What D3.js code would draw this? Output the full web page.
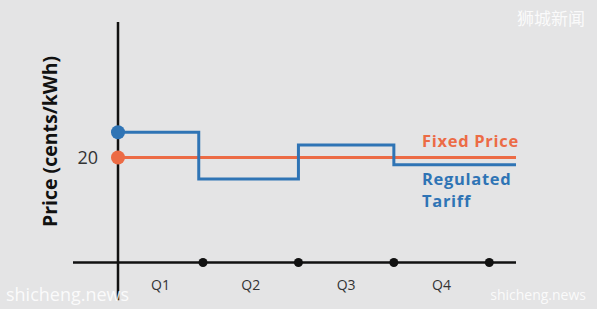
<!DOCTYPE html>
<html>
<head>
<meta charset="utf-8">
<script src="https://cdn.jsdelivr.net/npm/d3@7"></script>
<style>
  body { margin: 0; background: #e4e4e5; }
  svg { display: block; }
</style>
</head>
<body>
<div id="chart"></div>
<script>
// quarter labels and tick positions (quarter boundaries)
const quarters = ["Q1", "Q2", "Q3", "Q4"];
const quarterTicks = [1, 2, 3, 4];

// fixed price stays flat at 20 cents/kWh
const fixedX = [0, 4.28];
const fixedY = [20, 20];

// regulated tariff changes each quarter (step after)
const tariffX = [0, 0.95, 2, 3, 4.28];
const tariffY = [24.8, 15.9, 22.4, 18.6, 18.6];

const yTicks = [20];

const width = 597, height = 309;

const svg = d3.select("#chart").append("svg")
    .attr("width", width).attr("height", height);

svg.append("rect").attr("width", width).attr("height", height).attr("fill", "#e4e4e5");

// x scale: y axis sits at 0, quarter ends follow
const x = d3.scaleLinear().domain([0, 1, 4.28]).range([118, 203, 516]);
const y = d3.scaleLinear().domain([0, 45.8]).range([262.5, 22]);

const blue = "#2f74b5", orange = "#ec6b45";

// axes
svg.append("line")
    .attr("x1", 73).attr("x2", x(4.28))
    .attr("y1", y(0)).attr("y2", y(0))
    .attr("stroke", "#111").attr("stroke-width", 2.5);

svg.append("line")
    .attr("x1", x(0)).attr("x2", x(0))
    .attr("y1", y(45.8)).attr("y2", y(-7.2))
    .attr("stroke", "#111").attr("stroke-width", 2.5);

svg.selectAll("circle.tick")
    .data(quarterTicks)
    .join("circle")
    .attr("class", "tick")
    .attr("cx", d => x(d)).attr("cy", y(0))
    .attr("r", 4.5).attr("fill", "#111");

svg.selectAll("text.q")
    .data(quarters)
    .join("text")
    .attr("class", "q")
    .attr("x", (d, i) => (x(i) + x(i + 1)) / 2)
    .attr("y", y(0) + 23)
    .attr("dy", "0.35em")
    .attr("text-anchor", "middle")
    .attr("font-family", "Open Sans, sans-serif")
    .attr("font-size", 14)
    .attr("fill", "#333")
    .text(d => d);

svg.selectAll("text.ytick")
    .data(yTicks)
    .join("text")
    .attr("class", "ytick")
    .attr("x", 98).attr("y", d => y(d))
    .attr("dy", "0.35em")
    .attr("text-anchor", "end")
    .attr("font-family", "Open Sans, sans-serif")
    .attr("font-size", 18)
    .attr("fill", "#333")
    .text(d => d);

svg.append("text")
    .attr("transform", `translate(57,${(55 + 228) / 2}) rotate(-90)`)
    .attr("text-anchor", "middle")
    .attr("font-family", "Open Sans, sans-serif")
    .attr("font-weight", 700)
    .attr("font-size", 19.5)
    .attr("fill", "#111")
    .text("Price (cents/kWh)");

// lines
const line = d3.line().x(d => x(d[0])).y(d => y(d[1]));

svg.append("path")
    .datum(d3.zip(fixedX, fixedY))
    .attr("d", line)
    .attr("fill", "none").attr("stroke", orange).attr("stroke-width", 3);

svg.append("path")
    .datum(d3.zip(tariffX, tariffY))
    .attr("d", line.curve(d3.curveStepAfter))
    .attr("fill", "none").attr("stroke", blue).attr("stroke-width", 3);

svg.append("circle").attr("cx", x(0)).attr("cy", y(tariffY[0])).attr("r", 7).attr("fill", blue);
svg.append("circle").attr("cx", x(0)).attr("cy", y(fixedY[0])).attr("r", 7).attr("fill", orange);

// line labels
const labelFont = "Open Sans, sans-serif";
const addLabel = (txt, yPos, color) => svg.append("text")
    .attr("x", 422).attr("y", yPos)
    .attr("font-family", labelFont).attr("font-weight", 700).attr("font-size", 16.5)
    .attr("letter-spacing", 0.7)
    .attr("fill", color).text(txt);

addLabel("Fixed Price", 147, orange);
addLabel("Regulated", 185, blue);
addLabel("Tariff", 207, blue);

// watermarks
svg.append("text").attr("x", 585).attr("y", 25).attr("text-anchor", "end")
    .attr("font-family", "Noto Sans CJK SC, sans-serif").attr("font-size", 17)
    .attr("fill", "#fff").attr("opacity", 0.85).text("狮城新闻");
svg.append("text").attr("x", 6).attr("y", 301)
    .attr("font-family", "Open Sans, sans-serif").attr("font-size", 18)
    .attr("fill", "#fff").attr("opacity", 0.85).text("shicheng.news");
svg.append("text").attr("x", 586).attr("y", 300).attr("text-anchor", "end")
    .attr("font-family", "Open Sans, sans-serif").attr("font-size", 14)
    .attr("fill", "#fff").attr("opacity", 0.85).text("shicheng.news");
</script>
</body>
</html>
